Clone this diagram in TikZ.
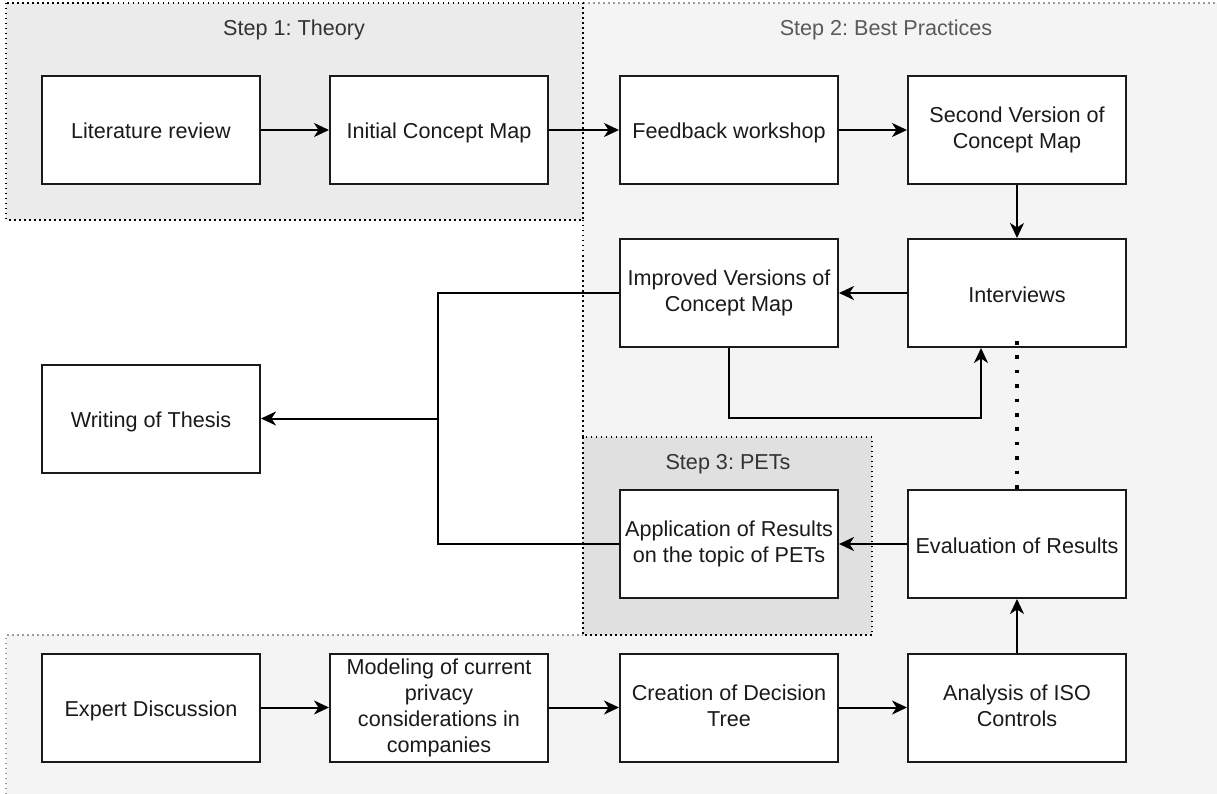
\documentclass[tikz,border=0pt]{standalone}
\usepackage{fontspec}
\setmainfont{Liberation Sans}
\usetikzlibrary{arrows.meta}
\frenchspacing
\definecolor{regA}{HTML}{EBEBEB}
\definecolor{regB}{HTML}{F4F4F4}
\definecolor{regC}{HTML}{E0E0E0}
\definecolor{txt}{HTML}{1A1A1A}
\definecolor{lbl}{HTML}{333333}
\definecolor{lblB}{HTML}{5A5A5A}
% line strut that keeps the text block centred on its cap height
\newcommand{\linestrut}{\rule[-4pt]{0pt}{26pt}}
\tikzset{
  box/.style={draw=txt, line width=2pt, fill=white, minimum width=218pt, minimum height=108pt,
    inner sep=0pt, align=center, text=txt, font=\fontsize{21.6}{26}\selectfont,
    execute at begin node=\linestrut, execute at end node=\linestrut},
  steplabel/.style={font=\fontsize{21.6}{26}\selectfont, inner sep=0pt,
    execute at begin node=\linestrut},
  border/.style={line width=1.5pt, dash pattern=on 1.5pt off 3.5pt},
  link/.style={draw=black, line width=2pt, -{Stealth[length=15pt, width=14pt, inset=4.5pt]}},
  plain/.style={draw=black, line width=2pt},
  dotlink/.style={draw=black, line width=3.6pt, dash pattern=on 3.6pt off 10.8pt}
}
\begin{document}
\begin{tikzpicture}[x=1pt, y=-1pt]
\useasboundingbox (0,0) rectangle (1217,794);
\fill[white] (0,0) rectangle (1217,794);

% phase backgrounds
\fill[regB] (583,3) rectangle (1217,794);
\fill[regB] (6,635) rectangle (1217,794);
\fill[regA] (6,3) rectangle (583,220);
\fill[regC] (583,437) rectangle (872,635);

% phase borders
\draw[border, draw=gray!80] (583,3) -- (1217,3);
\draw[border, draw=gray!80] (6,794) -- (6,635) -- (583,635);
\draw[border] (583,220) -- (583,437);
\draw[border] (6,3) rectangle (583,220);
\draw[border] (583,437) rectangle (872,635);

% phase titles
\node[steplabel, text=lbl] (t1) at (294,27) {Step 1: Theory};
\node[steplabel, text=lblB] (t2) at (886,27) {Step 2: Best Practices};
\node[steplabel, text=lbl] (t3) at (728,461) {Step 3: PETs};

% process steps
\node[box] (lit) at (151,130) {Literature review};
\node[box] (icm) at (439,130) {Initial Concept Map};
\node[box] (fbw) at (729,130) {Feedback workshop};
\node[box] (svc) at (1017,130) {Second Version of\\Concept Map};
\node[box] (ivw) at (1017,293) {Interviews};
\node[box] (ivc) at (729,293) {Improved Versions of\\Concept Map};
\node[box] (wot) at (151,418.5) {Writing of Thesis};
\node[box] (app) at (729,544) {Application of Results\\on the topic of PETs};
\node[box] (eval) at (1017,544) {Evaluation of Results};
\node[box] (exp) at (151,707.5) {Expert Discussion};
\node[box] (mod) at (439,707.5) {Modeling of current\\privacy\\considerations in\\companies};
\node[box] (cdt) at (729,707.5) {Creation of Decision\\Tree};
\node[box] (iso) at (1017,707.5) {Analysis of ISO\\Controls};

\coordinate (mergeA) at (438,293);
\coordinate (mergeB) at (438,544);
\coordinate (loopA) at (729,418);
\coordinate (loopB) at (981,418);

% connectors
\draw[link] (lit) -- (icm);
\draw[link] (icm) -- (fbw);
\draw[link] (fbw) -- (svc);
\draw[link] (svc) -- (ivw);
\draw[link] (ivw) -- (ivc);
\draw[link] (ivc.west) -- (mergeA) |- (wot.east);
\draw[plain] (app.west) -- (mergeB) -- ([yshift=-1pt]mergeB |- wot.east);
\draw[link] (ivc.south) -- (loopA) -- (loopB) -- (loopB |- ivw.south);
\draw[dotlink] ([yshift=7pt]ivw.south) -- (eval.north);
\draw[link] (eval) -- (app);
\draw[link] (iso) -- (eval);
\draw[link] (exp) -- (mod);
\draw[link] (mod) -- (cdt);
\draw[link] (cdt) -- (iso);
\end{tikzpicture}
\end{document}
